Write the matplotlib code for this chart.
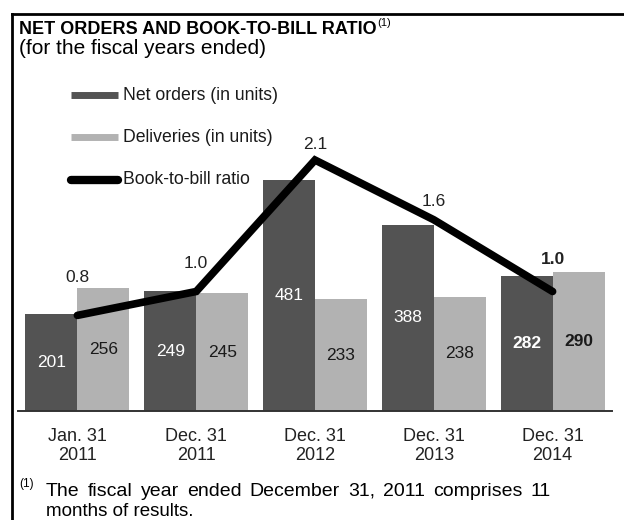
import numpy as np
import matplotlib
matplotlib.use("Agg")
import matplotlib.pyplot as plt
from matplotlib.lines import Line2D

plt.rcParams['font.family'] = ['Liberation Sans', 'DejaVu Sans']

periods = ["Jan. 31\n2011", "Dec. 31\n2011", "Dec. 31\n2012", "Dec. 31\n2013", "Dec. 31\n2014"]
net_orders = [201, 249, 481, 388, 282]
deliveries = [256, 245, 233, 238, 290]
book_to_bill = [0.8, 1.0, 2.1, 1.6, 1.0]

series_names = ["Net orders (in units)", "Deliveries (in units)", "Book-to-bill ratio"]

DARK = "#535353"
LIGHT = "#b2b2b2"

W, H = 624, 520
fig = plt.figure(figsize=(W / 100, H / 100), dpi=100)
renderer = fig.canvas.get_renderer()


def fx(px):
    return px / W


def fy(py):
    return 1 - py / H


ax = fig.add_axes([fx(18), fy(411), fx(594), 351 / H])
x = np.arange(len(periods))
width = 0.437

ax.bar(x - width / 2, net_orders, width, color=DARK, zorder=2)
ax.bar(x + width / 2, deliveries, width, color=LIGHT, zorder=2)
ax.set_xlim(-0.5, len(periods) - 0.5)
ax.set_ylim(0, 731)
for s in ["top", "right", "left"]:
    ax.spines[s].set_visible(False)
ax.spines["bottom"].set_color("#333333")
ax.spines["bottom"].set_linewidth(1.4)
ax.set_yticks([])
ax.set_xticks(x, periods)
ax.tick_params(axis="x", length=0, pad=12, labelsize=13, colors="#222222")
for lbl in ax.get_xticklabels():
    lbl.set_linespacing(1.2)

# bar value labels
last = len(periods) - 1
for i, v in enumerate(net_orders):
    ax.text(x[i] - width / 2, v / 2, str(v), ha="center", va="center",
            color="white", fontsize=12.5,
            fontweight="bold" if i == last else "normal", zorder=5)
for i, v in enumerate(deliveries):
    ax.text(x[i] + width / 2, v / 2, str(v), ha="center", va="center",
            color="#1a1a1a", fontsize=12.5,
            fontweight="bold" if i == last else "normal", zorder=5)

# book-to-bill ratio on its own scale
ax2 = ax.twinx()
ax2.set_ylim(0, 2.937)
ax2.set_xlim(ax.get_xlim())
ax2.axis("off")
ax2.plot(x, book_to_bill, color="black", lw=5.5,
         solid_capstyle="round", solid_joinstyle="miter", zorder=4)
label_lift = [27, 20, 11, 13, 23]
for i, v in enumerate(book_to_bill):
    ax2.annotate(f"{v:.1f}", (x[i], v), xytext=(0, label_lift[i]),
                 textcoords="offset points", ha="center", va="center",
                 fontsize=12.5, color="#222222",
                 fontweight="bold" if i == last else "normal")

# legend
legend_rows = [95, 137, 180]
handles = [dict(color=DARK, lw=5, solid_capstyle="butt"),
           dict(color=LIGHT, lw=5, solid_capstyle="butt"),
           dict(color="black", lw=6, solid_capstyle="round")]
for name, yrow, style in zip(series_names, legend_rows, handles):
    fig.add_artist(Line2D([fx(71), fx(118)], [fy(yrow), fy(yrow)],
                          transform=fig.transFigure, **style))
    fig.text(fx(123), fy(yrow), name, ha="left", va="center",
             fontsize=12.7, color="#1a1a1a")

# heading
title = fig.text(fx(19), fy(30), "NET ORDERS AND BOOK-TO-BILL RATIO",
                 ha="left", va="center", fontsize=13, fontweight="bold",
                 color="black")
bb = title.get_window_extent(renderer)
fig.text(bb.x1 / W + fx(1), fy(23), "(1)", ha="left", va="center",
         fontsize=8, color="black")
fig.text(fx(19), fy(49), "(for the fiscal years ended)", ha="left",
         va="center", fontsize=15, color="black")


def spread_line(text, left, right, ypix, size):
    """Lay the words of a line out so they fill the span [left, right]."""
    words = text.split(" ")
    arts = [fig.text(0, fy(ypix), w, ha="left", va="center", fontsize=size,
                     color="black") for w in words]
    widths = [a.get_window_extent(renderer).width for a in arts]
    gap = (right - left - sum(widths)) / (len(words) - 1)
    pos = left
    for a, w in zip(arts, widths):
        a.set_x(fx(pos))
        pos += w + gap


# footnote
fig.text(fx(19), fy(484), "(1)", ha="left", va="center", fontsize=8.5,
         color="black")
spread_line("The fiscal year ended December 31, 2011 comprises 11",
            46, 551, 491, 14)
fig.text(fx(46), fy(512), "months of results.", ha="left", va="center",
         fontsize=13.5, color="black")

# frame
fig.add_artist(Line2D([fx(12), fx(624)], [fy(14), fy(14)],
                      transform=fig.transFigure, color="black", lw=2))
fig.add_artist(Line2D([fx(12), fx(12)], [fy(14), fy(520)],
                      transform=fig.transFigure, color="black", lw=2))

fig.savefig("out.png", dpi=100)
